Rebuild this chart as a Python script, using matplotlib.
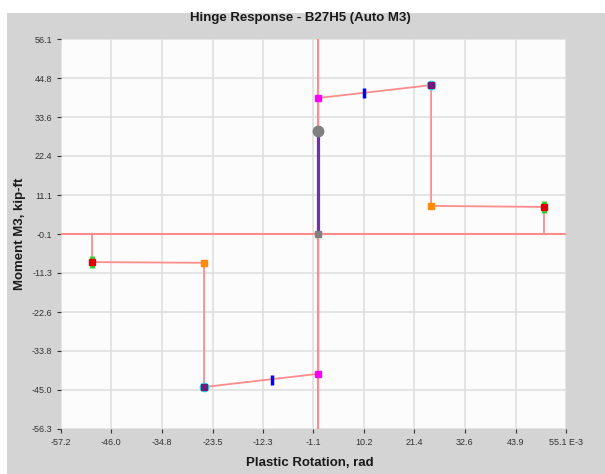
import matplotlib.pyplot as plt
from matplotlib.patches import Rectangle

# hinge backbone (rotation in E-3 rad, moment in kip-ft)
rot = [-50.3, -50.3, -25.4, -25.4, 0.0, 0.0, 0.0, 25.1, 25.1, 50.2, 50.2]
mom = [0.0, -8.2, -8.4, -44.2, -40.4, 0.0, 39.1, 42.8, 8.0, 7.7, 0.0]

# key points
b_rot = [0.0, 0.0]
b_mom = [39.1, -40.4]
c_rot = [25.1, -25.4]
c_mom = [42.8, -44.2]
d_rot = [25.1, -25.4]
d_mom = [8.0, -8.4]
e_rot = [50.2, -50.3]
e_mom = [7.7, -8.2]
acc_rot = [10.2, -10.3]
acc_mom = [40.5, -42.2]

# current state
state_rot = [0.0, 0.0]
state_mom = [0.0, 29.6]

xticks = [-57.2, -46.0, -34.8, -23.5, -12.3, -1.1, 10.2, 21.4, 32.6, 43.9, 55.1]
xlabels = ['-57.2', '-46.0', '-34.8', '-23.5', '-12.3', '-1.1', '10.2', '21.4',
           '32.6', '43.9', '55.1 E-3']
yticks = [56.1, 44.8, 33.6, 22.4, 11.1, -0.1, -11.3, -22.6, -33.8, -45.0, -56.3]
ylabels = ['56.1', '44.8', '33.6', '22.4', '11.1', '-0.1', '-11.3', '-22.6',
           '-33.8', '-45.0', '-56.3']

plt.rcParams['font.family'] = ['Liberation Sans', 'DejaVu Sans']

fig = plt.figure(figsize=(6.05, 4.74), dpi=100, facecolor='white')
fig.patches.append(Rectangle((7 / 605, 0), 1, (474 - 13) / 474, transform=fig.transFigure,
                             facecolor='#d4d4d4', edgecolor='none', zorder=-5))
ax = fig.add_axes([61 / 605, 1 - 429 / 474, 505 / 605, 390 / 474])
ax.set_facecolor('#fcfcfc')
for s in ax.spines.values():
    s.set_visible(False)

ax.set_xlim(-57.2, 55.1)
ax.set_ylim(-56.3, 56.1)
ax.set_xticks(xticks)
ax.set_xticklabels(xlabels)
ax.set_yticks(yticks)
ax.set_yticklabels(ylabels)
ax.tick_params(labelsize=6.5, labelcolor='#333333', color='#333333', length=3, width=0.8)
ax.grid(True, color='#e0e0e0', lw=1.2)
ax.set_axisbelow(True)

red = '#ff8c8c'
ax.axhline(0, color=red, lw=1.5, zorder=2)
ax.axvline(0, color=red, lw=1.5, zorder=2)
ax.plot(rot, mom, color=red, lw=1.3, zorder=3)
ax.plot(state_rot, state_mom, color='#7030b0', lw=2.3, zorder=4)

ax.plot(b_rot, b_mom, 's', color='#ff00ff', ms=5, zorder=5)
ax.plot(c_rot, c_mom, 'o', color='#30e0f0', ms=6, zorder=5)
ax.plot(c_rot, c_mom, 's', color='#6a1e7a', ms=5, zorder=6)
ax.plot(d_rot, d_mom, 's', color='#ff8c00', ms=5, zorder=5)
ax.plot(e_rot, e_mom, '|', color='#30d030', ms=8, mew=3.5, zorder=5)
ax.plot(e_rot, e_mom, 's', color='#e00000', ms=5, zorder=6)
ax.plot(acc_rot, acc_mom, '|', color='#0000ff', ms=7.5, mew=2.5, zorder=5)
ax.plot(state_rot[1], state_mom[1], 'o', color='#808080', ms=7.5, zorder=7)
ax.plot(state_rot[0], state_mom[0], 's', color='#808080', ms=5, zorder=7)

fig.text(300 / 605, 1 - 18 / 474, 'Hinge Response - B27H5 (Auto M3)', ha='center', va='center',
         fontsize=9.5, fontweight='bold', color='#1a1a1a')
fig.text(310 / 605, 1 - 463 / 474, 'Plastic Rotation, rad', ha='center', va='center',
         fontsize=9.5, fontweight='bold', color='#1a1a1a')
fig.text(20 / 605, 1 - 234 / 474, 'Moment M3, kip-ft', ha='center', va='center', rotation=90,
         fontsize=9.5, fontweight='bold', color='#1a1a1a')

fig.savefig('out.png', dpi=100, facecolor=fig.get_facecolor())
